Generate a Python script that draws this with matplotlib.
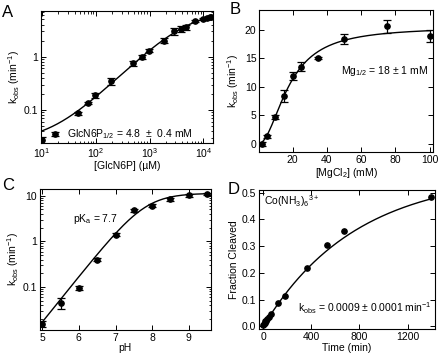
import matplotlib
matplotlib.use("Agg")
import matplotlib.pyplot as plt
import numpy as np

plt.rcParams["font.family"] = ["Liberation Sans", "DejaVu Sans"]
plt.rcParams["font.size"] = 7.5
plt.rcParams["mathtext.fontset"] = "custom"
plt.rcParams["mathtext.rm"] = "Liberation Sans"
plt.rcParams["mathtext.it"] = "Liberation Sans"

# --- panel A: GlcN6P titration ---
glc_conc = [10, 47, 70, 95, 192, 490, 720, 960, 1820, 2880, 3880, 4800, 6900, 9800, 11500, 13000, 14000]
glc_kobs = [0.027, 0.086, 0.137, 0.19, 0.345, 0.75, 0.99, 1.3, 2.0, 3.0, 3.3, 3.6, 4.7, 5.1, 5.3, 5.5, 5.5]
glc_err = [0.004, 0.005, 0.007, 0.02, 0.05, 0.08, 0.1, 0.1, 0.2, 0.4, 0.4, 0.4, 0.2, 0.2, 0.2, 0.2, 0.2]
glc_K, glc_kmax, glc_k0 = 4800, 7.5, 0.025

# --- panel B: Mg dependence ---
mg_conc = [2, 5, 10, 15, 20, 25, 35, 50, 75, 100]
mg_kobs = [0.0, 1.3, 4.7, 8.4, 11.9, 13.5, 15.1, 18.4, 20.6, 18.9]
mg_err = [0.3, 0.3, 0.3, 1.0, 0.7, 0.8, 0.2, 0.8, 1.1, 1.1]
mg_K, mg_kmax, mg_n = 18, 20.5, 2

# --- panel C: pH profile ---
ph = [5, 5.5, 6, 6.5, 7, 7.5, 8, 8.5, 9, 9.5]
ph_kobs = [0.0156, 0.045, 0.097, 0.40, 1.4, 4.8, 6.1, 8.4, 10.2, 11.0]
ph_err = [0.002, 0.012, 0.01, 0.03, 0.1, 0.4, 0.4, 0.6, 0.8, 0.5]
curve_pka, ph_kmax = 7.82, 11.3

# --- panel D: Co(NH3)6 time course ---
time_min = [0, 5, 10, 15, 20, 30, 45, 60, 120, 180, 360, 530, 675, 1395]
frac_cleaved = [0.003, 0.008, 0.012, 0.018, 0.021, 0.028, 0.034, 0.045, 0.086, 0.115, 0.219, 0.304, 0.355, 0.484]
co_fmax, co_k = 0.57, 0.0013

fig = plt.figure(figsize=(4.4, 3.54), dpi=100)
axA = fig.add_axes([0.093, 0.596, 0.391, 0.373])
axB = fig.add_axes([0.589, 0.571, 0.395, 0.401])
axC = fig.add_axes([0.091, 0.068, 0.388, 0.398])
axD = fig.add_axes([0.589, 0.071, 0.400, 0.392])

ebkw = dict(fmt="o", color="black", ms=3.8, capsize=2.8, elinewidth=0.9, capthick=0.9)

def style(ax):
    ax.tick_params(which="both", direction="in", top=True, right=True, labelsize=7.5, pad=2)
    ax.tick_params(which="major", length=3.5, width=0.7)
    ax.tick_params(which="minor", length=1.8, width=0.6)
    for s in ax.spines.values():
        s.set_linewidth(0.8)

# A
x = np.logspace(1, np.log10(14000), 200)
axA.plot(x, glc_k0 + glc_kmax * x / (glc_K + x), color="black", lw=1)
axA.errorbar(glc_conc, glc_kobs, yerr=glc_err, **ebkw)
axA.set_xscale("log")
axA.set_yscale("log")
axA.set_xlim(9.5, 15000)
axA.set_ylim(0.024, 7.2)
axA.set_yticks([0.1, 1])
axA.set_yticklabels(["0.1", "1"])
axA.set_xlabel("[GlcN6P] (µM)", labelpad=1)
axA.set_ylabel("k$_{obs}$ (min$^{-1}$)", labelpad=1)
axA.errorbar([17.5], [0.036], yerr=[0.003], **ebkw)
axA.text(29, 0.036, "GlcN6P$_{1/2}$ = 4.8  ±  0.4 mM", va="center", fontsize=7.5)
style(axA)

# B
x = np.linspace(2, 100, 200)
axB.plot(x, mg_kmax * x**mg_n / (mg_K**mg_n + x**mg_n), color="black", lw=1)
axB.errorbar(mg_conc, mg_kobs, yerr=mg_err, **ebkw)
axB.set_xlim(0.5, 102)
axB.set_ylim(-1.4, 23.5)
axB.set_xticks([20, 40, 60, 80, 100])
axB.set_yticks([0, 5, 10, 15, 20])
axB.set_xlabel("[MgCl$_2$] (mM)", labelpad=1)
axB.set_ylabel("k$_{obs}$ (min$^{-1}$)", labelpad=3)
axB.text(48.5, 12.8, "Mg$_{1/2}$ = 18 ± 1 mM", va="center", fontsize=7.5)
style(axB)

# C
x = np.linspace(5, 9.5, 200)
axC.plot(x, ph_kmax / (1 + 10 ** (curve_pka - x)), color="black", lw=1)
axC.errorbar(ph, ph_kobs, yerr=ph_err, **ebkw)
axC.set_yscale("log")
axC.set_xlim(4.94, 9.6)
axC.set_ylim(0.0115, 14)
axC.set_yticks([0.1, 1, 10])
axC.set_yticklabels(["0.1", "1", "10"])
axC.set_xticks([5, 6, 7, 8, 9])
axC.set_xlabel("pH", labelpad=0)
axC.set_ylabel("k$_{obs}$ (min$^{-1}$)", labelpad=1)
axC.text(5.85, 3.1, "pK$_a$ = 7.7", va="center", fontsize=7.5)
style(axC)

# D
x = np.linspace(0, 1395, 200)
axD.plot(x, co_fmax * (1 - np.exp(-co_k * x)), color="black", lw=1)
axD.plot(time_min, frac_cleaved, "o", color="black", ms=3.8)
axD.set_xlim(-35, 1430)
axD.set_ylim(-0.01, 0.51)
axD.set_xticks([0, 400, 800, 1200])
axD.set_yticks([0.0, 0.1, 0.2, 0.3, 0.4, 0.5])
axD.set_yticklabels(["0.0", "0.1", "0.2", "0.3", "0.4", "0.5"])
axD.set_xlabel("Time (min)", labelpad=1)
axD.set_ylabel("Fraction Cleaved", labelpad=2)
axD.text(5, 0.468, "Co(NH$_3$)$_6$$^{3+}$", va="center", fontsize=7.5)
axD.text(285, 0.068, "k$_{obs}$ = 0.0009 ± 0.0001 min$^{-1}$", va="center", fontsize=7.5)
style(axD)

for lab, (fx, fy) in zip("ABCD", [(0.005, 0.965), (0.523, 0.972), (0.005, 0.477), (0.517, 0.466)]):
    fig.text(fx, fy, lab, fontsize=12, va="center", ha="left")

fig.savefig("out.png", dpi=100)
